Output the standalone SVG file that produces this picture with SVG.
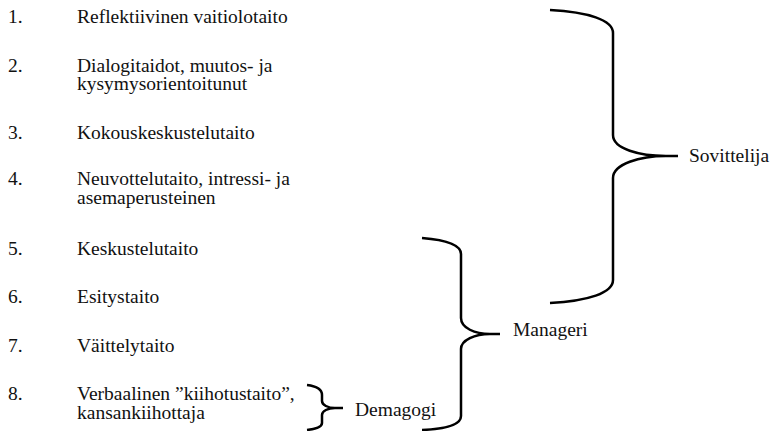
<svg xmlns="http://www.w3.org/2000/svg" width="773" height="431" viewBox="0 0 773 431">
  <style>
    .t { font-family: 'Liberation Serif', 'Times New Roman', Times, 'DejaVu Serif', serif; font-size: 19.5px; fill: #111; }
    .brace { fill: none; stroke: #000; stroke-width: 2.5; stroke-linecap: butt; stroke-linejoin: round; }
  </style>
  <rect width="773" height="431" fill="#fff"/>

  <!-- numbered skill list -->
  <g class="t" font-family="Liberation Serif, serif">
    <g id="item1"><text x="8" y="23">1.</text><text x="77" y="23">Reflektiivinen vaitiolotaito</text></g>
    <g id="item2"><text x="8" y="72">2.</text><text x="77" y="72">Dialogitaidot, muutos- ja</text><text x="77" y="90">kysymysorientoitunut</text></g>
    <g id="item3"><text x="8" y="139">3.</text><text x="77" y="139">Kokouskeskustelutaito</text></g>
    <g id="item4"><text x="8" y="185">4.</text><text x="77" y="185">Neuvottelutaito, intressi- ja</text><text x="77" y="204">asemaperusteinen</text></g>
    <g id="item5"><text x="8" y="255">5.</text><text x="77" y="255">Keskustelutaito</text></g>
    <g id="item6"><text x="8" y="303">6.</text><text x="77" y="303">Esitystaito</text></g>
    <g id="item7"><text x="8" y="352">7.</text><text x="77" y="352">Väittelytaito</text></g>
    <g id="item8"><text x="8" y="400">8.</text><text x="77" y="400">Verbaalinen ”kiihotustaito”,</text><text x="77" y="419">kansankiihottaja</text></g>

    <!-- role labels -->
    <g id="sovittelija"><text x="689" y="162">Sovittelija</text></g>
    <g id="manageri"><text x="513" y="336">Manageri</text></g>
    <g id="demagogi"><text x="355" y="416">Demagogi</text></g>
  </g>

  <!-- grouping braces -->
  <g id="connectors">
    <path class="brace" d="M550,10 C588,12 613,20 613,33 L613,135 C613,149 640,156 666,156 L678,156 M666,156 C640,156 613,164 613,178 L613,280 C613,293 588,301 550,303"/>
    <path class="brace" d="M422,238 C446,240 461,245 461,254 L461,318 C461,328 475,334 490,334 L500,334 M490,334 C475,334 461,340 461,349 L461,416 C461,425 446,429 422,430"/>
    <path class="brace" d="M307,385 C316,386 322,389 322,395 L322,401 C322,405 328,408 335,408 L343,408 M335,408 C328,408 322,411 322,415 L322,423 C322,427 316,429 307,430"/>
  </g>
</svg>
